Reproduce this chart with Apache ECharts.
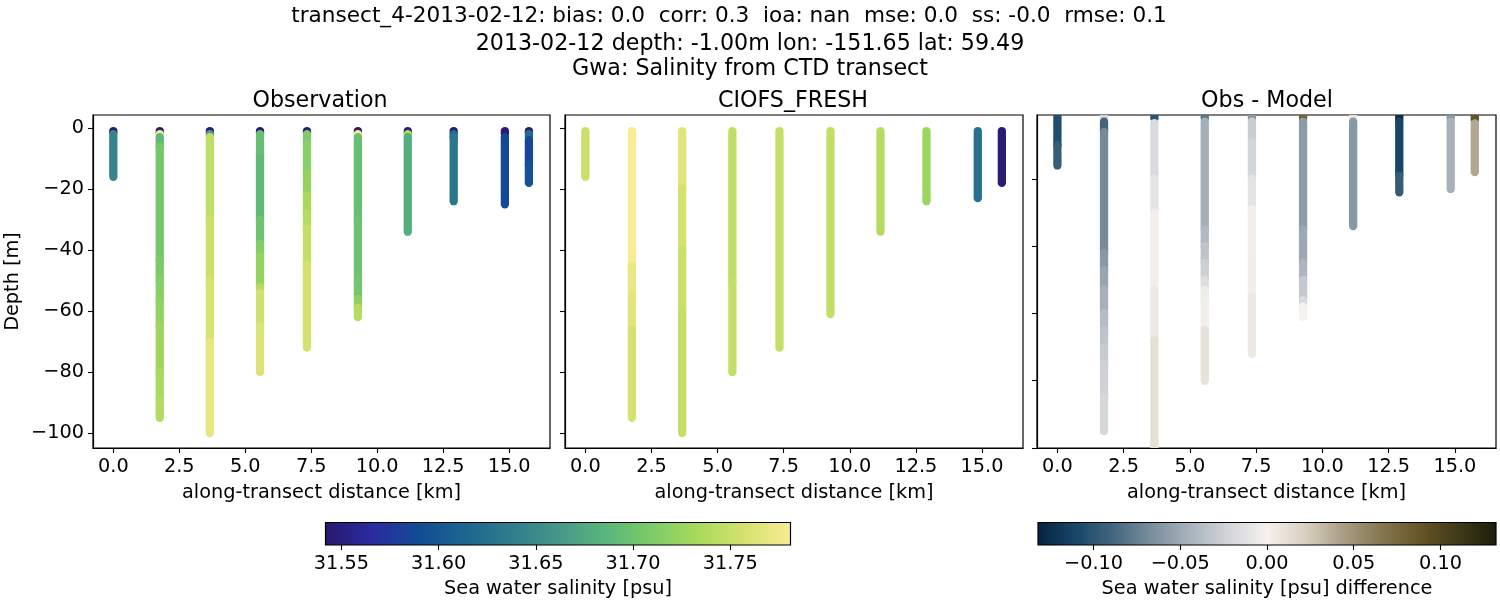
<!DOCTYPE html>
<html>
<head>
<meta charset="utf-8">
<script src="https://cdn.jsdelivr.net/npm/echarts@6/dist/echarts.min.js"></script>
<style>
html,body{margin:0;padding:0;background:#fff}
#main{width:1500px;height:600px}
</style>
</head>
<body>
<div id="main"></div>
<script>
// along-transect position of every cast [km]
var castDistance = [0, 1.76, 3.66, 5.56, 7.34, 9.27, 11.16, 12.9, 14.84, 15.75];

// each cast: [top depth, bottom depth, value], drawn top to bottom
var obsCasts = [
    [[1,1.5,31.545],[2,16,31.645]],
    [[1,1.5,31.545],[2,2.5,31.78],[3,6,31.69],[6,43,31.705],[43,50,31.708],[50,57,31.715],[57,65,31.722],[65,80,31.728],[80,89,31.733],[89,95,31.738]],
    [[1,1.5,31.545],[2,2.5,31.67],[3,30,31.745],[30,50,31.752],[50,70,31.76],[70,100,31.768]],
    [[1,1.5,31.545],[2,10,31.695],[10,30,31.69],[30,38,31.70],[38,42,31.712],[42,52,31.722],[52,54,31.74],[54,65,31.755],[65,80,31.762]],
    [[1,1.5,31.545],[2,5,31.71],[5,15,31.715],[15,22,31.722],[22,28,31.732],[28,33,31.74],[33,45,31.748],[45,72,31.757]],
    [[1,1.5,31.545],[2,2.5,31.78],[3,30,31.695],[30,50,31.70],[50,56,31.703],[56,59,31.718],[59,62,31.74]],
    [[1,1.5,31.545],[2,2.5,31.735],[3,34,31.68]],
    [[1,1.5,31.545],[2,3,31.62],[3,24,31.63]],
    [[1,2,31.545],[3,25,31.588]],
    [[1,1.5,31.545],[2,3,31.62],[4,12,31.585],[12,18,31.595]]
];
var modelCasts = [
    [[1,16,31.752]],
    [[1,45,31.781],[45,55,31.772],[55,66,31.765],[66,95,31.758]],
    [[1,20,31.765],[20,40,31.757],[40,60,31.752],[60,100,31.748]],
    [[1,50,31.745],[50,80,31.748]],
    [[1,72,31.748]],
    [[1,61,31.747]],
    [[1,34,31.74]],
    [[1,24,31.727]],
    [[1,23,31.625]],
    [[1,18,31.545]]
];
var diffCasts = [
    [[1,10,-0.105],[10,16,-0.095]],
    [[1,2,-0.02],[3,6,-0.09],[6,42,-0.068],[42,47,-0.06],[47,53,-0.052],[53,60,-0.045],[60,65,-0.038],[65,70,-0.033],[70,75,-0.028],[75,85,-0.024],[85,95,-0.02]],
    [[1,2,-0.1],[3.4,20,-0.017],[20,30,-0.01],[30,53,-0.002],[53,68,0.006],[68,100,0.012]],
    [[1,2,-0.08],[3,35,-0.047],[35,40,-0.04],[40,45,-0.033],[45,50,-0.025],[50,53,-0.015],[53,56,-0.005],[56,65,0.002],[65,80,0.01]],
    [[1,2,-0.06],[3,9,-0.027],[9,20,-0.022],[20,29,-0.01],[29,45,-0.002],[45,55,0.003],[55,72,0.006]],
    [[1,2,0.08],[3,35,-0.058],[35,45,-0.05],[45,50,-0.042],[50,56,-0.03],[56,58,-0.018],[58,61,0]],
    [[1,2,-0.008],[3,34,-0.06]],
    [[1,2.5,-0.125],[3,19,-0.11],[19,24,-0.095]],
    [[1,2,-0.06],[3,23,-0.045]],
    [[1,2.5,0.09],[3.5,18,0.04]]
];

var distTicks = [0, 2.5, 5, 7.5, 10, 12.5, 15];
var depthTicks = [0, -20, -40, -60, -80, -100];
var diffDepthTicks = [-20, -40, -60, -80, -100];
var salinityTicks = [31.55, 31.60, 31.65, 31.70, 31.75];
var differenceTicks = [-0.10, -0.05, 0, 0.05, 0.10];

var halineColors = ['#2a186c','#2a2ba0','#124b96','#1c6690','#2f7d8c','#46968a','#58b67c','#7dcb69','#a8da5b','#d5e26f','#f9ec94'];
var diffColors = ['#07223f','#17466a','#44677f','#7a8f9e','#a9b3bc','#d2d5d9','#f5f1ee','#d9d0c1','#a99e83','#85764f','#665526','#3f3a18','#1c1c0a'];

var FONT = 'DejaVu Sans';
var SIZE = 19.3;
var TITLE_SIZE = 22.2;

function castRows(casts){
    var rows = [];
    casts.forEach(function(segs, i){
        segs.forEach(function(s){
            rows.push([castDistance[i], -s[0], -s[1], s[2]]);
        });
    });
    return rows;
}

function drawSegment(params, api){
    var a = api.coord([api.value(0), api.value(1)]);
    var b = api.coord([api.value(0), api.value(2)]);
    return {
        type: 'line',
        shape: {x1: a[0], y1: a[1], x2: b[0], y2: b[1]},
        style: {stroke: api.visual('color'), lineWidth: 8.3, lineCap: 'round', fill: null}
    };
}

function castSeries(idx, casts){
    return {
        type: 'custom',
        xAxisIndex: idx,
        yAxisIndex: idx,
        clip: true,
        silent: true,
        animation: false,
        renderItem: drawSegment,
        encode: {x: 0, y: [1, 2]},
        data: castRows(casts)
    };
}

function barSeries(idx, lo, hi, colors){
    return {
        type: 'custom',
        xAxisIndex: idx,
        yAxisIndex: idx,
        silent: true,
        animation: false,
        renderItem: function(params, api){
            var a = api.coord([api.value(0), 0]);
            var b = api.coord([api.value(1), 1]);
            var stops = colors.map(function(c, i){
                return {offset: i / (colors.length - 1), color: c};
            });
            return {
                type: 'rect',
                shape: {x: a[0], y: b[1], width: b[0] - a[0], height: a[1] - b[1]},
                style: {fill: new echarts.graphic.LinearGradient(0, 0, 1, 0, stops), stroke: '#000', lineWidth: 1.2}
            };
        },
        encode: {x: [0, 1]},
        data: [[lo, hi]]
    };
}

function minusFmt(digits){
    return function(v){
        return Number(v).toFixed(digits).replace('-', '\u2212');
    };
}

function xAxisFor(idx, min, max){
    return {
        type: 'value', gridIndex: idx, min: min, max: max,
        splitLine: {show: false},
        axisLine: {show: true, onZero: false, lineStyle: {color: '#000', width: 1.2}},
        axisTick: {show: true, length: 5, customValues: distTicks, lineStyle: {color: '#000', width: 1.1}},
        axisLabel: {customValues: distTicks, formatter: minusFmt(1), color: '#000', fontFamily: FONT, fontSize: SIZE, margin: 9, hideOverlap: false},
        name: 'along-transect distance [km]',
        nameLocation: 'middle', nameGap: 35,
        nameTextStyle: {color: '#000', fontFamily: FONT, fontSize: SIZE}
    };
}

function yAxisFor(idx, min, max, ticks, labels){
    var ax = {
        type: 'value', gridIndex: idx, min: min, max: max,
        splitLine: {show: false},
        axisLine: {show: true, onZero: false, lineStyle: {color: '#000', width: 1.2}},
        axisTick: {show: true, length: 5, customValues: ticks, lineStyle: {color: '#000', width: 1.1}},
        axisLabel: {show: labels, customValues: ticks, formatter: minusFmt(0), color: '#000', fontFamily: FONT, fontSize: SIZE, margin: 9}
    };
    if (labels) {
        ax.name = 'Depth [m]';
        ax.nameLocation = 'middle';
        ax.nameGap = 71;
        ax.nameTextStyle = {color: '#000', fontFamily: FONT, fontSize: SIZE};
    }
    return ax;
}

function barAxis(idx, min, max, ticks, digits, name){
    return {
        type: 'value', gridIndex: idx, min: min, max: max,
        splitLine: {show: false},
        axisLine: {show: false},
        axisTick: {show: true, length: 5, customValues: ticks, lineStyle: {color: '#000', width: 1.1}},
        axisLabel: {customValues: ticks, formatter: minusFmt(digits), color: '#000', fontFamily: FONT, fontSize: SIZE, margin: 9},
        name: name, nameLocation: 'middle', nameGap: 34,
        nameTextStyle: {color: '#000', fontFamily: FONT, fontSize: SIZE}
    };
}

function hiddenY(idx){
    return {type: 'value', gridIndex: idx, min: 0, max: 1, show: false};
}

function titleAt(text, x, y, size){
    return {text: text, left: x, top: y, textAlign: 'center', padding: 0,
        textStyle: {color: '#000', fontFamily: FONT, fontSize: size, fontWeight: 'normal'}};
}

var SAL_MIN = 31.5418, SAL_MAX = 31.781, DIFF_MIN = -0.132, DIFF_MAX = 0.132;

var myChart = echarts.init(document.getElementById('main'), null, {renderer: 'canvas'});
var frame = {show: true, borderColor: '#000', borderWidth: 1.2, backgroundColor: 'transparent'};

var option = {
    backgroundColor: '#fff',
    animation: false,
    title: [
        titleAt('transect_4-2013-02-12: bias: 0.0  corr: 0.3  ioa: nan  mse: 0.0  ss: -0.0  rmse: 0.1', 729, 5, 21.6),
        titleAt('2013-02-12 depth: -1.00m lon: -151.65 lat: 59.49', 750, 33, TITLE_SIZE),
        titleAt('Gwa: Salinity from CTD transect', 750, 58, TITLE_SIZE),
        titleAt('Observation', 320, 90, TITLE_SIZE),
        titleAt('CIOFS_FRESH', 793, 90, TITLE_SIZE),
        titleAt('Obs - Model', 1267, 90, TITLE_SIZE)
    ],
    grid: [
        Object.assign({left: 93, top: 115, width: 457, height: 333}, frame),
        Object.assign({left: 565, top: 115, width: 458, height: 333}, frame),
        Object.assign({left: 1037, top: 115, width: 459, height: 333}, frame),
        {left: 325.5, top: 522.5, width: 465, height: 22.5, show: false},
        {left: 1038, top: 522.5, width: 458, height: 22.5, show: false}
    ],
    xAxis: [
        xAxisFor(0, -0.77, 16.55),
        xAxisFor(1, -0.77, 16.55),
        xAxisFor(2, -0.77, 16.55),
        barAxis(3, SAL_MIN, SAL_MAX, salinityTicks, 2, 'Sea water salinity [psu]'),
        barAxis(4, DIFF_MIN, DIFF_MAX, differenceTicks, 2, 'Sea water salinity [psu] difference')
    ],
    yAxis: [
        yAxisFor(0, -104.9, 4.26, depthTicks, true),
        yAxisFor(1, -104.9, 4.26, depthTicks, false),
        yAxisFor(2, -100, -1, diffDepthTicks, false),
        hiddenY(3),
        hiddenY(4)
    ],
    visualMap: [
        {show: false, type: 'continuous', seriesIndex: [0, 1], dimension: 3, min: SAL_MIN, max: SAL_MAX, inRange: {color: halineColors}},
        {show: false, type: 'continuous', seriesIndex: 2, dimension: 3, min: DIFF_MIN, max: DIFF_MAX, inRange: {color: diffColors}}
    ],
    series: [
        castSeries(0, obsCasts),
        castSeries(1, modelCasts),
        castSeries(2, diffCasts),
        barSeries(3, SAL_MIN, SAL_MAX, halineColors),
        barSeries(4, DIFF_MIN, DIFF_MAX, diffColors)
    ]
};

myChart.setOption(option);
</script>
</body>
</html>
